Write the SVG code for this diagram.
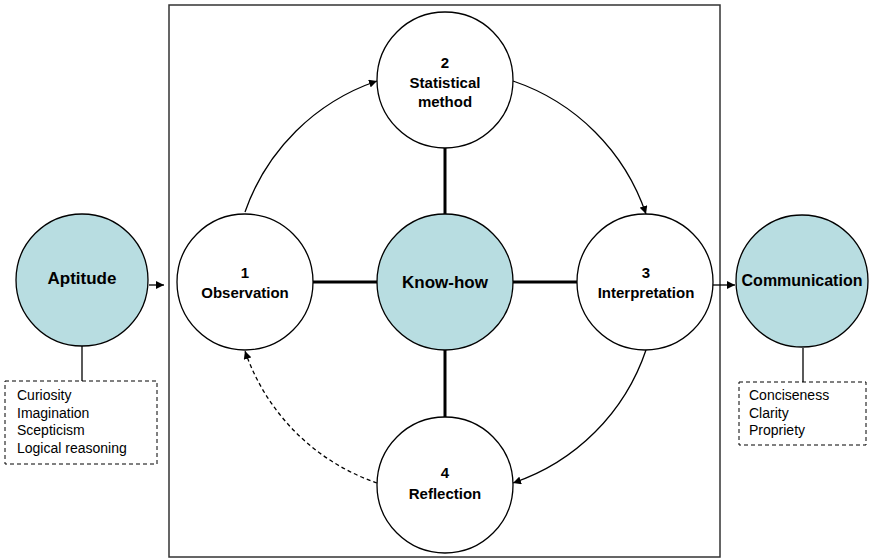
<svg xmlns="http://www.w3.org/2000/svg" width="871" height="559" viewBox="0 0 871 559">
<defs>
<style>
.plain{fill:#fff;stroke:#000;stroke-width:1.3}
.teal{fill:#b8dde1;stroke:#000;stroke-width:1.3}
.lbl{font-family:"Liberation Sans",Arial,sans-serif;font-weight:bold;font-size:15px;fill:#000;text-anchor:middle}
.big{font-size:17px}
.lst{font-family:"Liberation Sans",Arial,sans-serif;font-size:14px;fill:#000}
.box{fill:#fff;stroke:#000;stroke-width:1;stroke-dasharray:4 3}
.thick{stroke:#000;stroke-width:3;fill:none}
.arc{stroke:#000;stroke-width:1.3;fill:none}
</style>
<marker id="ah" viewBox="0 0 10 10" refX="10" refY="5" markerWidth="8" markerHeight="8" markerUnits="userSpaceOnUse" orient="auto">
<path d="M0,0 L10,5 L0,10 Z" fill="#000"/>
</marker>
</defs>
<rect width="871" height="559" fill="#fff"/>
<rect x="169" y="5" width="551" height="552" fill="none" stroke="#333" stroke-width="1.5"/>
<g id="connectors">
<line class="thick" x1="313" y1="282" x2="378" y2="282"/>
<line class="thick" x1="512" y1="282" x2="577" y2="282"/>
<line class="thick" x1="445" y1="148" x2="445" y2="214"/>
<line class="thick" x1="445" y1="350" x2="445" y2="417"/>
<path class="arc" d="M245,212 A212,212 0 0 1 377,81" marker-end="url(#ah)"/>
<path class="arc" d="M513,81 A212,212 0 0 1 646,214" marker-end="url(#ah)"/>
<path class="arc" d="M646,350 A212,212 0 0 1 513,483" marker-end="url(#ah)"/>
<path class="arc" d="M377,483 A212,212 0 0 1 245,351" stroke-dasharray="4 3" marker-end="url(#ah)"/>
<line class="arc" x1="149" y1="285" x2="164" y2="285" marker-end="url(#ah)"/>
<line class="arc" x1="713" y1="285" x2="735" y2="285" marker-end="url(#ah)"/>
<line class="arc" x1="82" y1="346" x2="82" y2="381"/>
<line class="arc" x1="803" y1="348" x2="803" y2="382"/>
</g>
<g id="aptitude">
<circle class="teal" cx="82" cy="280" r="66"/>
<text class="lbl big" x="82" y="284">Aptitude</text>
</g>
<g id="aptitude-list">
<rect class="box" x="5" y="381" width="152" height="83"/>
<text class="lst" x="17" y="400">Curiosity</text>
<text class="lst" x="17" y="418">Imagination</text>
<text class="lst" x="17" y="435">Scepticism</text>
<text class="lst" x="17" y="453">Logical reasoning</text>
</g>
<g id="observation">
<circle class="plain" cx="245" cy="282" r="68"/>
<text class="lbl" x="245" y="278">1</text>
<text class="lbl" x="245" y="298">Observation</text>
</g>
<g id="statistical-method">
<circle class="plain" cx="445" cy="80" r="68"/>
<text class="lbl" x="445" y="68">2</text>
<text class="lbl" x="445" y="88">Statistical</text>
<text class="lbl" x="445" y="107">method</text>
</g>
<g id="know-how">
<circle class="teal" cx="445" cy="282" r="68"/>
<text class="lbl big" x="445" y="288">Know-how</text>
</g>
<g id="interpretation">
<circle class="plain" cx="645" cy="282" r="68"/>
<text class="lbl" x="646" y="278">3</text>
<text class="lbl" x="646" y="298">Interpretation</text>
</g>
<g id="reflection">
<circle class="plain" cx="445" cy="485" r="68"/>
<text class="lbl" x="445" y="478">4</text>
<text class="lbl" x="445" y="499">Reflection</text>
</g>
<g id="communication">
<circle class="teal" cx="802" cy="281" r="66"/>
<text class="lbl" x="802" y="286" style="font-size:16px">Communication</text>
</g>
<g id="communication-list">
<rect class="box" x="739" y="382" width="127" height="63"/>
<text class="lst" x="749" y="400">Conciseness</text>
<text class="lst" x="749" y="418">Clarity</text>
<text class="lst" x="749" y="435">Propriety</text>
</g>
</svg>
